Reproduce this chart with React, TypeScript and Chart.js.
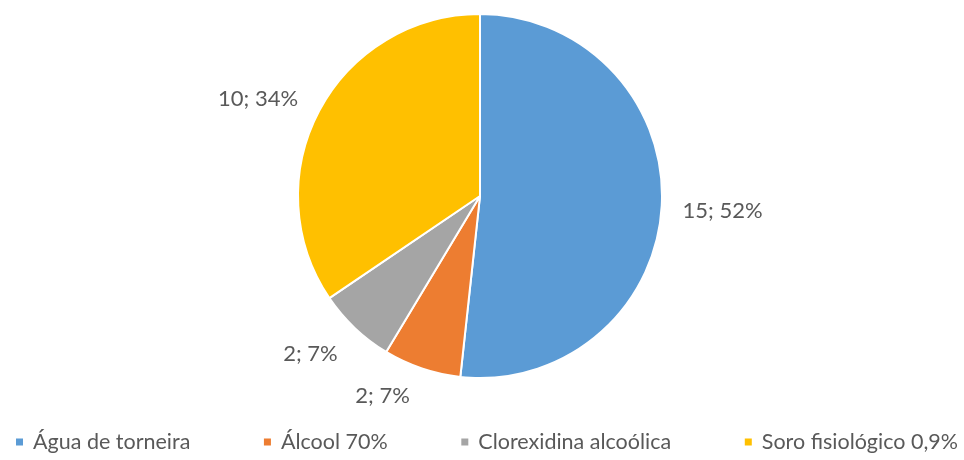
import React, { useEffect, useRef } from "react";
import { Chart, registerables } from "chart.js";

Chart.register(...registerables);

const categories = ["Água de torneira", "Álcool 70%", "Clorexidina alcoólica", "Soro fisiológico 0,9%"];
const counts = [15, 2, 2, 10];
const percentLabels = ["52%", "7%", "7%", "34%"];
const colors = ["#5B9BD5", "#ED7D31", "#A5A5A5", "#FFC000"];
const labelDistance = [61, 40, 50, 60];
const labelAngleNudge = [0.4, 7.4, 3.5, -4.4];

const FONT = "Lato, 'Open Sans', sans-serif";

const labelPlugin = {
  id: "outsideLabels",
  afterDatasetsDraw(chart: any) {
    const ctx = chart.ctx;
    const meta = chart.getDatasetMeta(0);
    ctx.save();
    ctx.font = `22px ${FONT}`;
    ctx.fillStyle = "#595959";
    ctx.textAlign = "center";
    ctx.textBaseline = "middle";
    meta.data.forEach((arc: any, i: number) => {
      const { x, y, startAngle, endAngle, outerRadius } = arc.getProps(["x", "y", "startAngle", "endAngle", "outerRadius"], true);
      const mid = (startAngle + endAngle) / 2 + (labelAngleNudge[i] * Math.PI) / 180;
      const d = outerRadius + labelDistance[i];
      ctx.fillText(`${counts[i]}; ${percentLabels[i]}`, x + Math.cos(mid) * d, y + Math.sin(mid) * d);
    });
    ctx.restore();
  },
};

const legendPlugin = {
  id: "customLegend",
  afterDraw(chart: any) {
    const ctx = chart.ctx;
    ctx.save();
    ctx.font = `21.5px ${FONT}`;
    ctx.textBaseline = "middle";
    const box = 7;
    const boxGap = 10;
    const widths = categories.map((c) => box + boxGap + ctx.measureText(c).width);
    const left = 16;
    const right = 958;
    const sum = widths.reduce((a, b) => a + b, 0);
    const gap = (right - left - sum) / (categories.length - 1);
    let x = left;
    const y = 442;
    categories.forEach((c, i) => {
      ctx.fillStyle = colors[i];
      ctx.fillRect(x, y - box / 2, box, box);
      ctx.fillStyle = "#595959";
      ctx.textAlign = "left";
      ctx.fillText(c, x + box + boxGap, y);
      x += widths[i] + gap;
    });
    ctx.restore();
  },
};

export default function App() {
  const ref = useRef<HTMLCanvasElement>(null);
  useEffect(() => {
    if (!ref.current) return;
    const chart = new Chart(ref.current, {
      type: "pie",
      data: {
        labels: categories,
        datasets: [
          {
            data: counts,
            backgroundColor: colors,
            borderColor: "#FFFFFF",
            borderWidth: 2,
          },
        ],
      },
      options: {
        animation: false,
        responsive: false,
        maintainAspectRatio: false,
        layout: { padding: { top: 13, bottom: 81, left: 0, right: 4 } },
        plugins: {
          legend: { display: false },
          tooltip: { enabled: false },
        },
      },
      plugins: [labelPlugin, legendPlugin],
    });
    return () => chart.destroy();
  }, []);
  return (
    <div style={{ position: "fixed", left: 0, top: 0, width: 964, height: 460, background: "#FFFFFF" }}>
      <canvas ref={ref} width={964} height={460} style={{ width: 964, height: 460 }} />
    </div>
  );
}
